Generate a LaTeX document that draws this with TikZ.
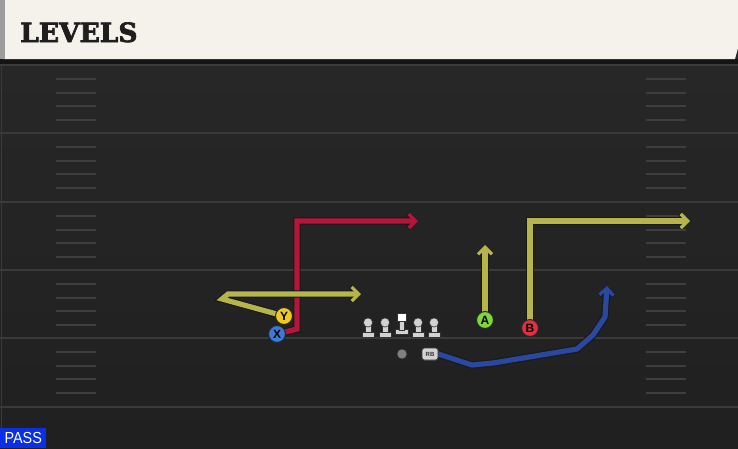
\documentclass[tikz,border=0pt]{standalone}
\usepackage{fontspec}
\setmainfont{Liberation Sans}
\newfontfamily\titlefont{DejaVu Serif}[FakeBold=2.5]
\usetikzlibrary{arrows.meta}
\definecolor{fieldc}{HTML}{272727}
\definecolor{fieldb}{HTML}{202020}
\definecolor{yardc}{HTML}{3A3A3A}
\definecolor{hashc}{HTML}{3E3E3E}
\definecolor{hdrc}{HTML}{F5F2EB}
\definecolor{hdrstrip}{HTML}{9C9C9C}
\definecolor{titlec}{HTML}{1E1E1E}
\definecolor{yroute}{HTML}{B5B54C}
\definecolor{rroute}{HTML}{B3163A}
\definecolor{broute}{HTML}{2A48A0}
\definecolor{ycirc}{HTML}{F2C81E}
\definecolor{xcirc}{HTML}{3A7BD5}
\definecolor{acirc}{HTML}{7ED63A}
\definecolor{bcirc}{HTML}{E0303F}
\definecolor{linec}{HTML}{D2D2D2}
\definecolor{passc}{HTML}{0B2FE6}
\begin{document}
\begin{tikzpicture}[x=1pt,y=-1pt,
  yard/.style={draw=yardc,line width=2pt},
  hash/.style={draw=hashc,line width=1.6pt},
  route/.style={line width=5.2pt,line join=miter,
    preaction={draw=black!90,line width=7.4pt}},
  tip/.style={-{Straight Barb[length=7pt,width=14pt,line width=0pt 0.62]}},
  player/.style={circle,minimum size=17pt,inner sep=0pt,draw=black!85,line width=1pt,
    font=\bfseries\fontsize{12}{12}\selectfont,text=black},
  lineman/.style={fill=linec,draw=black!80,line width=0.6pt}]
\useasboundingbox (0,0) rectangle (738,448);
\fill[fieldc] (0,0) rectangle (738,448);
\shade[top color=fieldc,bottom color=fieldb] (0,64) rectangle (738,448);
\draw[draw=yardc,line width=1.5pt] (1.5,64) -- (1.5,448);
% yard lines
\foreach \yy in {65,133,202,270,338,407}{\draw[yard] (0,\yy) -- (738,\yy);}
% hash marks
\foreach \yy in {65,133,202,270,338}{
  \foreach \oo in {14,28,41,55}{
    \draw[hash] (56,{\yy+\oo}) -- (96,{\yy+\oo});
    \draw[hash] (646,{\yy+\oo}) -- (686,{\yy+\oo});
  }}
% header
\fill[black!92] (0,59) rectangle (738,64);
\fill[hdrc] (3,0) -- (738,0) -- (738,48) -- (735,59) -- (3,59) -- cycle;
\fill[hdrstrip] (0,0) rectangle (5,59);
\node[anchor=base west,inner sep=0pt,text=titlec,
  font=\titlefont\bfseries\fontsize{26.5}{26.5}\selectfont] (title) at (20,42) {LEVELS};
% players
\node[player,fill=ycirc] (Y) at (284,316) {Y};
\node[player,fill=xcirc] (X) at (277,334) {X};
\node[player,fill=acirc] (A) at (485,320) {A};
\node[player,fill=bcirc] (B) at (530,328) {B};
\node[circle,fill=black!50,draw=black!80,line width=0.6pt,minimum size=10pt,inner sep=0pt] (QB) at (402,354) {};
\node[rounded corners=2.5pt,fill=linec,draw=black!80,line width=0.6pt,minimum width=16pt,
  minimum height=12pt,inner sep=0pt,font=\bfseries\fontsize{6}{6}\selectfont,text=black!80] (RB) at (430,354) {RB};
% route end points
\coordinate (yc1) at (222,299);
\coordinate (yc2) at (228,294);
\coordinate (yend) at (361,294);
\coordinate (xc1) at (297,329);
\coordinate (xc2) at (297,221);
\coordinate (xend) at (418,221);
\coordinate (aend) at (485,245);
\coordinate (bc1) at (530,221);
\coordinate (bend) at (690,221);
\coordinate (rb1) at (472,365);
\coordinate (rb2) at (493,363);
\coordinate (rb3) at (577,349);
\coordinate (rb4) at (593,335);
\coordinate (rb5) at (605,317);
\coordinate (rbend) at (607,286);
% routes
\draw[route,rroute,tip] (X.center) -- (xc1) -- (xc2) -- (xend);
\draw[route,yroute,tip] (Y.center) -- (yc1) -- (yc2) -- (yend);
\draw[route,yroute,tip] (A.center) -- (aend);
\draw[route,yroute,tip] (B.center) -- (bc1) -- (bend);
\draw[route,broute,tip,line join=round] (RB.east) -- (rb1) -- (rb2) -- (rb3) -- (rb4) -- (rb5) -- (rbend);
% redraw players on top
\node[player,fill=ycirc] at (Y) {Y};
\node[player,fill=xcirc] at (X) {X};
\node[player,fill=acirc] at (A) {A};
\node[player,fill=bcirc] at (B) {B};
\node[rounded corners=2.5pt,fill=linec,draw=black!80,line width=0.6pt,minimum width=16pt,
  minimum height=12pt,inner sep=0pt,font=\bfseries\fontsize{6}{6}\selectfont,text=black!80] at (RB) {RB};
% linemen
\foreach \xx in {368,385,418,434}{
  \filldraw[lineman] ({\xx-6},332) rectangle ({\xx+6},337.5);
  \filldraw[lineman] ({\xx-2.8},325) rectangle ({\xx+2.8},332.5);
  \filldraw[lineman] (\xx,322.5) circle (4.6);
}
\filldraw[lineman] (395,329.5) rectangle (408,334.5);
\filldraw[lineman] (399,321) rectangle (404,330);
\filldraw[fill=white,draw=black!80,line width=0.6pt] (397,313) rectangle (406,321.5);
% pass label
\node[fill=passc,anchor=south west,minimum width=46pt,minimum height=20pt,inner sep=0pt,
  text=white,font=\fontsize{16}{16}\selectfont] (pass) at (0,448) {\scalebox{0.9}[1]{PASS}};
\end{tikzpicture}
\end{document}
